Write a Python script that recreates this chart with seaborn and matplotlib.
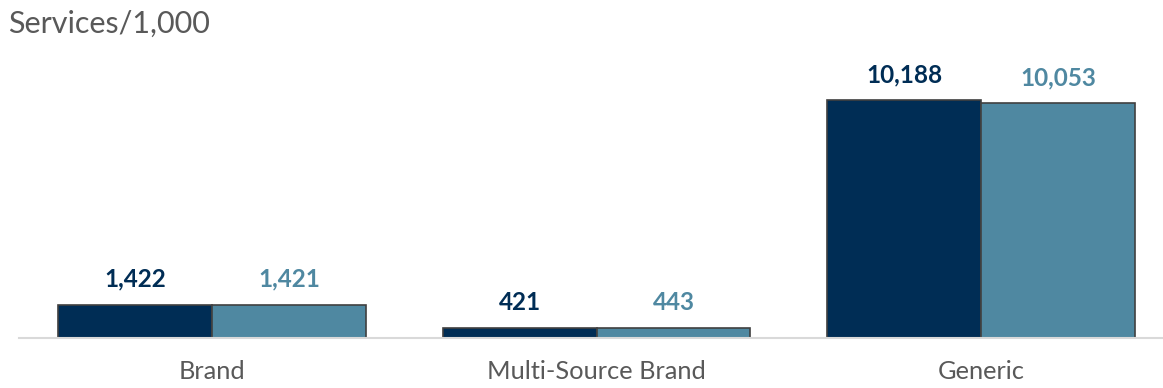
import numpy as np
import matplotlib.pyplot as plt
import pandas as pd
import seaborn as sns

categories = ["Brand", "Multi-Source Brand", "Generic"]
series = ["Prior", "Current"]
values_prior = [1422, 421, 10188]
values_current = [1421, 443, 10053]

colors = ["#002D55", "#4F88A1"]

data = pd.DataFrame({
    "category": categories * 2,
    "series": [series[0]] * 3 + [series[1]] * 3,
    "value": values_prior + values_current,
})

sns.set_style("white")
plt.rcParams["font.family"] = ["Lato", "DejaVu Sans"]

fig = plt.figure(figsize=(11.63, 3.88), dpi=100)
ax = fig.add_axes([19 / 1163, 50 / 388, 1 - 19 / 1163, 278 / 388])

sns.barplot(data=data, x="category", y="value", hue="series", order=categories,
            hue_order=series, palette=colors, edgecolor="#404040", linewidth=1.2,
            width=0.8, saturation=1, legend=False, ax=ax)

for container, color in zip(ax.containers, colors):
    ax.bar_label(container, labels=[f"{v:,.0f}" for v in container.datavalues],
                 padding=10, color=color, fontsize=17.5, fontweight="bold")

ax.set_xlim(-0.502, 2.473)
ax.set_ylim(0, 10188 * 278 / 238)
ax.set_yticks([])
ax.set_xlabel("")
ax.set_ylabel("")
for side in ["top", "right", "left"]:
    ax.spines[side].set_visible(False)
ax.spines["bottom"].set_color("#D9D9D9")
ax.spines["bottom"].set_linewidth(1.5)
ax.tick_params(axis="x", length=0, pad=16, labelsize=18.3, labelcolor="#595959")

fig.text(8 / 1163, 1 - 24 / 388, "Services/1,000", fontsize=22, color="#595959",
         ha="left", va="center")

fig.savefig("out.png", dpi=100)
